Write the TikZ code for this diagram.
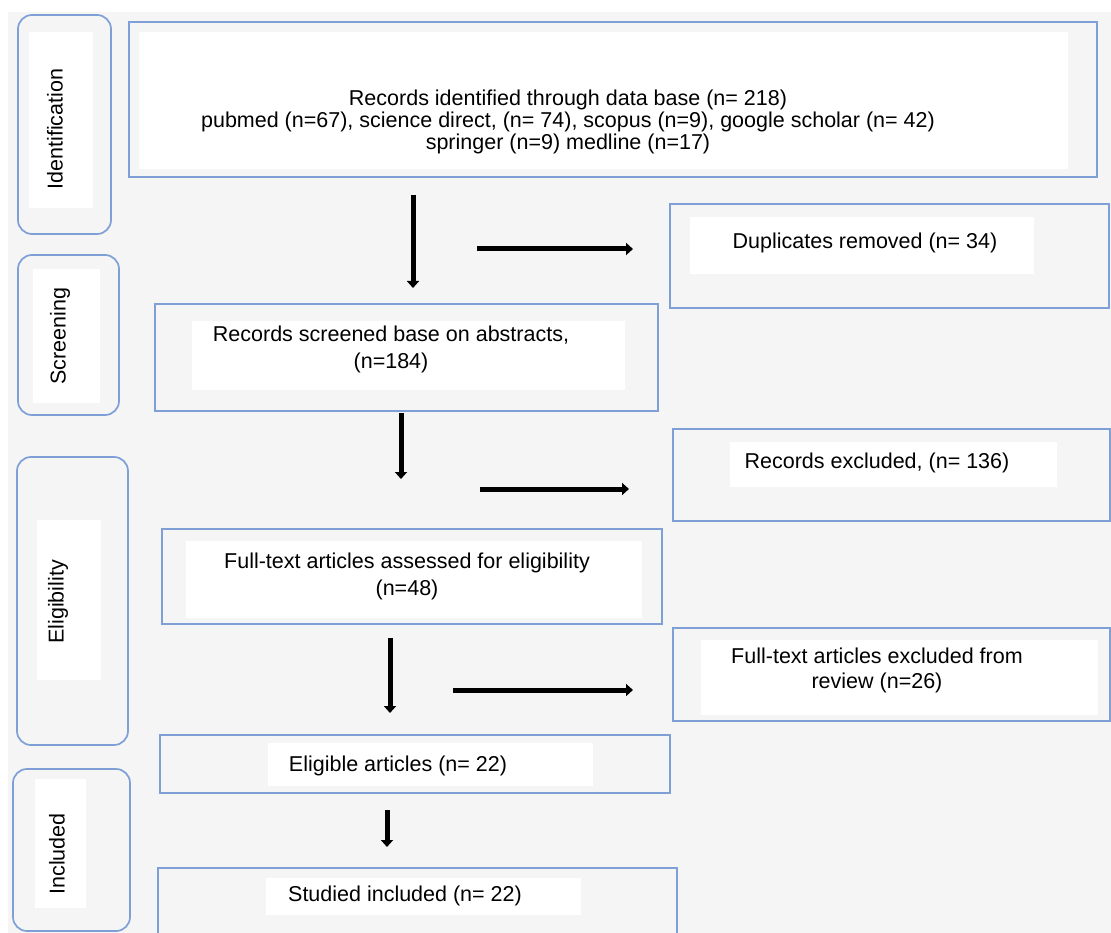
\documentclass[tikz,border=0pt]{standalone}
\usepackage{fontspec}
\setmainfont{Liberation Sans}
\usetikzlibrary{arrows.meta}
\definecolor{rampa}{RGB}{126,160,214}
\definecolor{podklad}{RGB}{245,245,245}

\begin{document}
\begin{tikzpicture}[x=1pt,y=-1pt,>={Triangle[width=12pt,length=7pt]},
    faze/.style={draw=rampa,line width=1.7pt,rounded corners=14pt},
    box/.style={draw=rampa,line width=1.7pt},
    bila/.style={fill=white},
    txt/.style={font=\fontsize{21.5}{25}\selectfont,align=center,inner sep=0pt},
    sipka/.style={line width=5pt,->}]

  \useasboundingbox (0,0) rectangle (1111,933);

  \begin{scope}   % pozadi
    \fill[podklad] (8,12) rectangle (1111,933);
  \end{scope}

  \begin{scope}   % faze vlevo

    \draw[faze] (18,15) rectangle (111,234);
    \fill[bila] (29,32) rectangle (93,208);
    \node[txt,rotate=90] (ident) at (55,129) {Identification};

    \draw[faze] (18,255) rectangle (119,415);
    \fill[bila] (33,269) rectangle (100,403);
    \node[txt,rotate=90] (screen) at (60,336) {Screening};

    \draw[faze] (17,457) rectangle (128,745);
    \fill[bila] (37,520) rectangle (101,680);
    \node[txt,rotate=90] (elig) at (58,602) {Eligibility};

    \draw[faze] (13,769) rectangle (130,931);
    \fill[bila] (35,779) rectangle (86,908);
    \node[txt,rotate=90] (incl) at (57,854) {Included};

  \end{scope}

  \begin{scope}   % hlavni sloupec

    \draw[box] (129,22) rectangle (1097,177);
    \fill[bila] (139,32) rectangle (1068,169);
    \node[txt,font=\fontsize{21.5}{22}\selectfont] (zaznamy) at (568,122)
         {Records identified through data base (n= 218)\\
          pubmed (n=67), science direct, (n= 74), scopus (n=9), google scholar (n= 42)\\
          springer (n=9) medline (n=17)};

    \draw[box] (155,304) rectangle (658,411);
    \fill[bila] (192,321) rectangle (625,390);
    \node[txt,font=\fontsize{21.5}{27}\selectfont] (abstrakty) at (391,349)
         {Records screened base on abstracts,\\ (n=184)};

    \draw[box] (162,529) rectangle (662,624);
    \fill[bila] (186,541) rectangle (642,618);
    \node[txt,font=\fontsize{21.5}{27}\selectfont] (posouzene) at (407,576)
         {Full-text articles assessed for eligibility\\ (n=48)};

    \draw[box] (160,735) rectangle (670,793);
    \fill[bila] (268,743) rectangle (593,786);
    \node[txt] (vhodne) at (398,766) {Eligible articles (n= 22)};

    \draw[box] (158,933)--(158,868)--(677,868)--(677,933);
    \fill[bila] (266,878) rectangle (581,915);
    \node[txt] (zahrnute) at (405,896) {Studied included (n= 22)};

  \end{scope}

  \begin{scope}   % vyrazene zaznamy

    \draw[box] (670,204) rectangle (1109,308);
    \fill[bila] (690,217) rectangle (1034,274);
    \node[txt] (duplikaty) at (865,243) {Duplicates removed (n= 34)};

    \draw[box] (673,429) rectangle (1110,521);
    \fill[bila] (730,442) rectangle (1057,487);
    \node[txt] (vyrazene) at (877,463) {Records excluded, (n= 136)};

    \draw[box] (673,628) rectangle (1110,721);
    \fill[bila] (701,640) rectangle (1098,715);
    \node[txt] (vyrazeneFT) at (877,670)
         {Full-text articles excluded from\\ review (n=26)};

  \end{scope}

  \begin{scope}   % sipky

    \coordinate (S1a) at (413,195);
    \coordinate (S1b) at (413,288);
    \coordinate (D1a) at (477,249);
    \coordinate (D1b) at (633,249);
    \coordinate (S2a) at (401,413);
    \coordinate (S2b) at (401,479);
    \coordinate (D2a) at (480,489);
    \coordinate (D2b) at (629,489);
    \coordinate (S3a) at (390,638);
    \coordinate (S3b) at (390,713);
    \coordinate (D3a) at (453,690);
    \coordinate (D3b) at (633,690);
    \coordinate (S4a) at (387,810);
    \coordinate (S4b) at (387,847);

    \draw[sipka] (S1a)--(S1b);
    \draw[sipka] (D1a)--(D1b);
    \draw[sipka] (S2a)--(S2b);
    \draw[sipka] (D2a)--(D2b);
    \draw[sipka] (S3a)--(S3b);
    \draw[sipka] (D3a)--(D3b);
    \draw[sipka] (S4a)--(S4b);

  \end{scope}

\end{tikzpicture}
\end{document}
